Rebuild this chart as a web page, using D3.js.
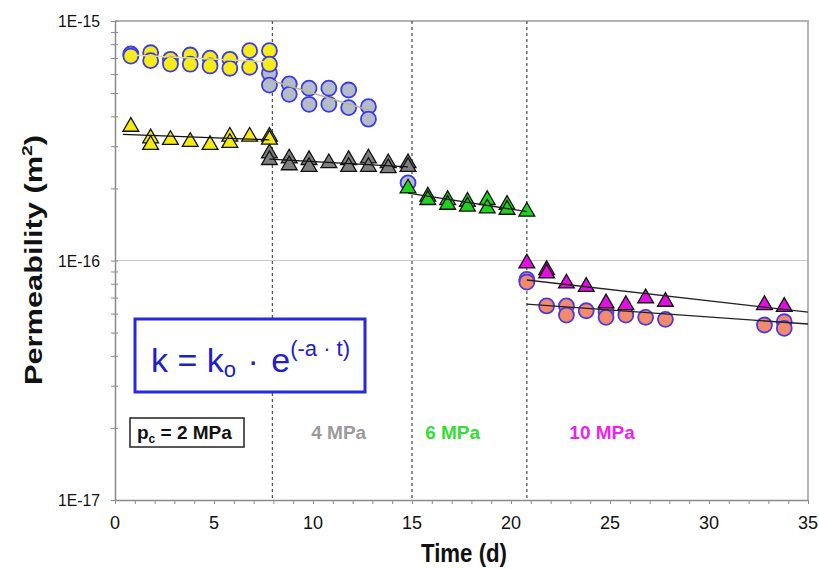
<!DOCTYPE html>
<html>
<head>
<meta charset="utf-8">
<script src="https://cdn.jsdelivr.net/npm/d3@7"></script>
<style>
  html, body { margin: 0; padding: 0; background: #fff; }
  svg { display: block; font-family: "Liberation Sans", Arial, sans-serif; }
</style>
</head>
<body>
<svg id="chart" width="819" height="569"></svg>
<script>
// ---------------- DATA ----------------
const xTicks = [0, 5, 10, 15, 20, 25, 30, 35];
const yTickValues = [1e-17, 1e-16, 1e-15];
const yTickLabels = ["1E-17", "1E-16", "1E-15"];
const stageBoundaries = [7.95, 15.0, 20.8];

// 2 MPa circles (yellow)
const t2Circ = [0.8, 0.8, 1.8, 1.8, 2.8, 2.8, 3.8, 3.8, 4.8, 4.8, 5.8, 5.8, 6.8, 6.8, 7.8, 7.8];
const k2Circ = [7.28e-16, 7.14e-16, 7.37e-16, 6.83e-16, 6.92e-16, 6.61e-16, 7.21e-16, 6.60e-16,
                7.00e-16, 6.49e-16, 6.92e-16, 6.35e-16, 7.52e-16, 6.41e-16, 7.52e-16, 6.60e-16];
// 4 MPa circles (blue-grey)
const t4Circ = [7.8, 7.8, 8.8, 8.8, 9.8, 9.8, 10.8, 10.8, 11.8, 11.8, 12.8, 12.8, 14.8];
const k4Circ = [6.05e-16, 5.40e-16, 5.46e-16, 4.94e-16, 5.24e-16, 4.49e-16, 5.24e-16, 4.49e-16,
                5.15e-16, 4.35e-16, 4.39e-16, 3.89e-16, 2.11e-16];
// 10 MPa circles (salmon)
const t10Circ = [20.8, 20.8, 21.8, 22.8, 22.8, 23.8, 24.8, 24.8, 25.8, 26.8, 27.8, 32.8, 33.8, 33.8];
const k10Circ = [8.34e-17, 8.13e-17, 6.46e-17, 6.46e-17, 5.92e-17, 6.17e-17, 6.11e-17, 5.79e-17,
                 5.92e-17, 5.79e-17, 5.68e-17, 5.38e-17, 5.55e-17, 5.21e-17];

// Triangles
const t2Tri = [0.8, 1.8, 1.8, 2.8, 3.8, 4.8, 5.8, 5.8, 6.8, 7.8, 7.8];
const k2Tri = [3.62e-16, 3.24e-16, 3.04e-16, 3.19e-16, 3.13e-16, 3.04e-16, 3.29e-16, 3.10e-16,
               3.29e-16, 3.29e-16, 3.20e-16];
const t4Tri = [7.8, 7.8, 8.8, 8.8, 9.8, 9.8, 10.8, 11.8, 11.8, 12.8, 12.8, 13.8, 13.8, 14.8, 14.8];
const k4Tri = [2.80e-16, 2.63e-16, 2.67e-16, 2.50e-16, 2.63e-16, 2.46e-16, 2.55e-16, 2.63e-16, 2.46e-16,
               2.67e-16, 2.46e-16, 2.55e-16, 2.43e-16, 2.55e-16, 2.46e-16];
const t6Tri = [14.8, 15.8, 15.8, 16.8, 16.8, 17.8, 17.8, 18.8, 18.8, 19.8, 19.8, 20.8];
const k6Tri = [2.00e-16, 1.85e-16, 1.79e-16, 1.79e-16, 1.71e-16, 1.76e-16, 1.68e-16, 1.79e-16, 1.65e-16,
               1.71e-16, 1.63e-16, 1.60e-16];
const t10Tri = [20.8, 21.8, 21.8, 22.8, 23.8, 24.8, 25.8, 26.8, 27.8, 32.8, 33.8];
const k10Tri = [9.73e-17, 9.13e-17, 8.84e-17, 8.03e-17, 7.77e-17, 6.63e-17, 6.52e-17, 6.96e-17,
                6.73e-17, 6.52e-17, 6.41e-17];

// Exponential fit lines: [tStart, tEnd], [kStart, kEnd]
const fit2Circ = {t: [0.8, 7.8], k: [7.21e-16, 6.74e-16]};
const fit4Circ = {t: [7.8, 12.8], k: [5.67e-16, 4.25e-16]};
const fit2Tri = {t: [0.4, 7.8], k: [3.36e-16, 3.19e-16]};
const fit4Tri = {t: [7.8, 14.8], k: [2.65e-16, 2.46e-16]};
const fit6Tri = {t: [14.8, 20.8], k: [1.91e-16, 1.60e-16]};
const fit10Tri = {t: [20.8, 35], k: [8.29e-17, 6.09e-17]};
const fit10Circ = {t: [20.8, 35], k: [6.58e-17, 5.43e-17]};

const stageLabels = ["4 MPa", "6 MPa", "10 MPa"];
const stageLabelT = [11.3, 17.05, 24.6];

// ---------------- CHART ----------------
const svg = d3.select("#chart");
const x = d3.scaleLinear().domain([0, 35]).range([115, 808]);
const y = d3.scaleLog().domain([1e-17, 1e-15]).range([500, 21]);

// gridline at 1E-16
svg.append("line")
  .attr("x1", x(0)).attr("x2", x(35))
  .attr("y1", y(1e-16)).attr("y2", y(1e-16))
  .attr("stroke", "#c8c8c8").attr("stroke-width", 1);

// frame (top and right)
svg.append("path")
  .attr("d", `M${x(0)},${y(1e-15)}H${x(35)}V${y(1e-17)}`)
  .attr("fill", "none").attr("stroke", "#b4b4b4").attr("stroke-width", 2);

// dashed stage boundaries
svg.selectAll(".stage").data(stageBoundaries).enter().append("line")
  .attr("x1", d => x(d)).attr("x2", d => x(d))
  .attr("y1", y(1e-15)).attr("y2", y(1e-17))
  .attr("stroke", "#555").attr("stroke-width", 1.3).attr("stroke-dasharray", "3,3");

// Y axis (log, minor ticks)
const yAllTicks = [];
for (let e = -17; e < -15; e++) for (let m = 1; m < 10; m++) yAllTicks.push(m * Math.pow(10, e));
yAllTicks.push(1e-15);
const yAx = svg.append("g").attr("transform", `translate(${x(0)},0)`)
  .call(d3.axisLeft(y).tickValues(yAllTicks).tickSize(0).tickFormat(""));
yAx.select(".domain").attr("stroke", "#8a8a8a").attr("stroke-width", 1.5);
yAx.selectAll(".tick").append("line").attr("x1", -4).attr("x2", 3).attr("stroke", "#8a8a8a");
svg.selectAll(".ylab").data(yTickValues).enter().append("text")
  .attr("x", 100).attr("y", d => y(d)).attr("dy", "0.36em")
  .attr("text-anchor", "end").attr("font-size", 17).attr("fill", "#111")
  .attr("textLength", 42).attr("lengthAdjust", "spacingAndGlyphs")
  .text((d, i) => yTickLabels[i]);

// X axis
const xAx = svg.append("g").attr("transform", `translate(0,${y(1e-17)})`)
  .call(d3.axisBottom(x).tickValues(d3.range(0, 36)).tickSize(4).tickSizeOuter(0).tickFormat(""));
xAx.select(".domain").attr("stroke", "#8a8a8a").attr("stroke-width", 1.5);
xAx.selectAll(".tick line").attr("stroke", "#8a8a8a");
svg.selectAll(".xlab").data(xTicks).enter().append("text")
  .attr("x", d => x(d)).attr("y", 529)
  .attr("text-anchor", "middle").attr("font-size", 18).attr("fill", "#111")
  .text(d => d);

// Axis titles
svg.append("text").attr("x", 464).attr("y", 562).attr("text-anchor", "middle")
  .attr("font-size", 25).attr("font-weight", "bold").attr("fill", "#111")
  .attr("textLength", 86).attr("lengthAdjust", "spacingAndGlyphs").text("Time (d)");
const yt = svg.append("text").attr("transform", "translate(42,260) rotate(-90)")
  .attr("text-anchor", "middle").attr("font-size", 24).attr("font-weight", "bold").attr("fill", "#111")
  .attr("textLength", 250).attr("lengthAdjust", "spacingAndGlyphs");
yt.append("tspan").text("Permeability (m");
yt.append("tspan").attr("font-size", 15).attr("dy", -10).text("2");
yt.append("tspan").attr("dy", 10).text(")");

// markers helpers
function circles(ts, ks, fill, stroke) {
  svg.append("g").selectAll("circle").data(ts).enter().append("circle")
    .attr("cx", d => x(d)).attr("cy", (d, i) => y(ks[i])).attr("r", 7.5)
    .attr("fill", fill).attr("stroke", stroke).attr("stroke-width", 1.8);
}
const tri = d3.symbol().type(d3.symbolTriangle).size(108);
function triangles(ts, ks, fill) {
  svg.append("g").selectAll("path").data(ts).enter().append("path")
    .attr("d", tri)
    .attr("transform", (d, i) => `translate(${x(d)},${y(ks[i])})`)
    .attr("fill", fill).attr("stroke", "#111").attr("stroke-width", 1.3);
}
function fit(f, color, w) {
  svg.append("line")
    .attr("x1", x(f.t[0])).attr("x2", x(f.t[1]))
    .attr("y1", y(f.k[0])).attr("y2", y(f.k[1]))
    .attr("stroke", color).attr("stroke-width", w);
}

circles(t4Circ, k4Circ, "#b4bccb", "#3a3ae6");
circles(t2Circ, k2Circ, "#f7ec15", "#3a3ae6");
circles(t10Circ, k10Circ, "#f48a6c", "#4a3ae6");
triangles(t2Tri, k2Tri, "#f4ea10");
triangles(t4Tri, k4Tri, "#7f7f7f");
triangles(t6Tri, k6Tri, "#1fd21f");
triangles(t10Tri, k10Tri, "#e010e0");

fit(fit2Circ, "#e8e070", 1.5);
fit(fit4Circ, "#b8b890", 1.5);
fit(fit2Tri, "#111", 1.3);
fit(fit4Tri, "#111", 1.3);
fit(fit6Tri, "#222", 1.3);
fit(fit10Tri, "#222", 1.3);
fit(fit10Circ, "#222", 1.3);

// Equation box
svg.append("rect").attr("x", 135).attr("y", 319).attr("width", 230).attr("height", 73)
  .attr("fill", "#fff").attr("stroke", "#2828e0").attr("stroke-width", 3);
const eq = svg.append("text").attr("x", 151).attr("y", 372).attr("fill", "#2020c8")
  .attr("font-size", 34);
eq.append("tspan").text("k = k");
eq.append("tspan").attr("font-size", 22).attr("dy", 5).text("o");
eq.append("tspan").attr("dy", -5).attr("dx", 2).text(" · ");
eq.append("tspan").attr("dx", 3).text("e");
eq.append("tspan").attr("font-size", 22).attr("dy", -16).text("(-a · t)");

// p_c box
svg.append("rect").attr("x", 130).attr("y", 418).attr("width", 114).attr("height", 29)
  .attr("fill", "#fff").attr("stroke", "#222").attr("stroke-width", 1.5);
const pc = svg.append("text").attr("x", 137).attr("y", 439).attr("font-size", 19)
  .attr("font-weight", "bold").attr("fill", "#111");
pc.append("tspan").text("p");
pc.append("tspan").attr("font-size", 12).attr("dy", 4).text("c");
pc.append("tspan").attr("dy", -4).text(" = 2 MPa");

const stageColors = ["#9a9a9a", "#33dd33", "#ee22ee"];
svg.selectAll(".slab").data(stageLabels).enter().append("text")
  .attr("x", (d, i) => x(stageLabelT[i])).attr("y", 439)
  .attr("text-anchor", "middle").attr("font-size", 19).attr("font-weight", "bold")
  .attr("fill", (d, i) => stageColors[i]).text(d => d);
</script>
</body>
</html>
